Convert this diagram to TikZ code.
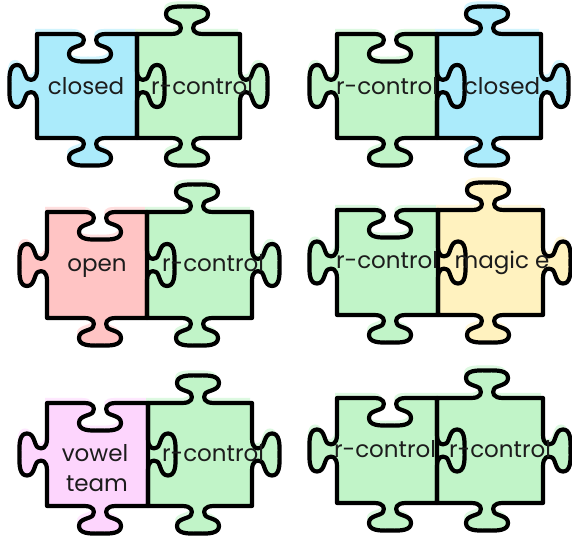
\documentclass[tikz,border=0pt]{standalone}
\usepackage{fontspec}
\setmainfont{Poppins}
\definecolor{pzblue}{RGB}{171,235,251}
\definecolor{pzgreen}{RGB}{193,244,200}
\definecolor{pzpink}{RGB}{255,196,196}
\definecolor{pzyellow}{RGB}{255,242,191}
\definecolor{pzlilac}{RGB}{253,213,253}
\definecolor{pzink}{RGB}{28,28,28}
\newcommand\tb{-- (-16,0) .. controls (-6,0) and (-5,-5) .. (-7,-9) .. controls (-9,-13) and (-21,-12) .. (-21,-20) .. controls (-21,-27) and (-12,-28) .. (0,-27.5) .. controls (12,-28) and (21,-27) .. (21,-20) .. controls (21,-12) and (9,-13) .. (7,-9) .. controls (5,-5) and (6,0) .. (16,0)}
\newcommand\pzL[4]{(#1,\yB) {[shift={(\cxL,\yB)}]\tb} -- (#2,\yB) {[shift={(#2,\cyM)},rotate=90]\tb} -- (#2,\yT) {[shift={(\cxL,\yT)},rotate=180,yscale=-1]\tb} -- (#1,\yT) {[shift={(#1,\cyM)},rotate=270]\tb} -- cycle}
\newcommand\pzR[2]{(#1,\yB) {[shift={(\cxR,\yB)}]\tb} -- (#2,\yB) {[shift={(#2,\cyM)},rotate=90]\tb} -- (#2,\yT) {[shift={(\cxR,\yT)},rotate=180]\tb} -- (#1,\yT) -- cycle}
% #1 x0, #2 top (image y), #3 x1, #4 x2, #5 height, #6 left colour, #7 right colour
\newcommand\pzpair[7]{%
 \pgfmathsetmacro\yT{537-#2}%
 \pgfmathsetmacro\yB{537-#2-#5}%
 \pgfmathsetmacro\cyM{537-#2-#5/2}%
 \pgfmathsetmacro\cxL{#1+53}%
 \pgfmathsetmacro\cxR{#3+50}%
 \begin{scope}[shift={(-2,5)}]
 \fill[#6!55!white] \pzL{#1}{#3}{}{};
 \fill[#7!55!white] \pzR{#3}{#4};
 \end{scope}
 \fill[#6] \pzL{#1}{#3}{}{};
 \fill[#7] \pzR{#3}{#4};
 \draw[pzline] \pzL{#1}{#3}{}{};
 \draw[pzline] (#3,\yB) {[shift={(\cxR,\yB)}]\tb} -- (#4,\yB) {[shift={(#4,\cyM)},rotate=90]\tb} -- (#4,\yT) {[shift={(\cxR,\yT)},rotate=180]\tb} -- (#3,\yT) -- cycle;
}
\begin{document}
\begin{tikzpicture}[x=1pt,y=1pt,
 pzline/.style={line width=4.2pt,line join=round,draw=black},
 lbl/.style={anchor=base,inner sep=0pt,text=pzink,font=\fontsize{23}{27}\selectfont}]
\useasboundingbox (0,0) rectangle (572,537);
\fill[white] (0,0) rectangle (572,537);
\pzpair{37}{34}{137}{240}{104}{pzblue}{pzgreen}
\pzpair{337}{34}{437}{541}{104}{pzgreen}{pzblue}
\pzpair{47}{212}{147}{252}{106}{pzpink}{pzgreen}
\pzpair{337}{210}{438}{543}{105}{pzgreen}{pzyellow}
\pzpair{47}{403}{148}{252}{103}{pzlilac}{pzgreen}
\pzpair{337}{398}{437}{543}{105}{pzgreen}{pzgreen}
\node[lbl] (t1a) at (86,442) {closed};
\node[lbl] (t1b) at (202,442) {r-control};
\node[lbl] (t2a) at (387,442) {r-control};
\node[lbl] (t2b) at (502,442) {closed};
\node[lbl] (t3a) at (97,265) {open};
\node[lbl] (t3b) at (213,265) {r-control};
\node[lbl] (t4a) at (387,268) {r-control};
\node[lbl] (t4b) at (502,268) {magic e};
\node[lbl] (t5a) at (95,75) {vowel};
\node[lbl] (t5c) at (97,45) {team};
\node[lbl] (t5b) at (213,75) {r-control};
\node[lbl] (t6a) at (385,79) {r-control};
\node[lbl] (t6b) at (500,79) {r-control};
\end{tikzpicture}
\end{document}
